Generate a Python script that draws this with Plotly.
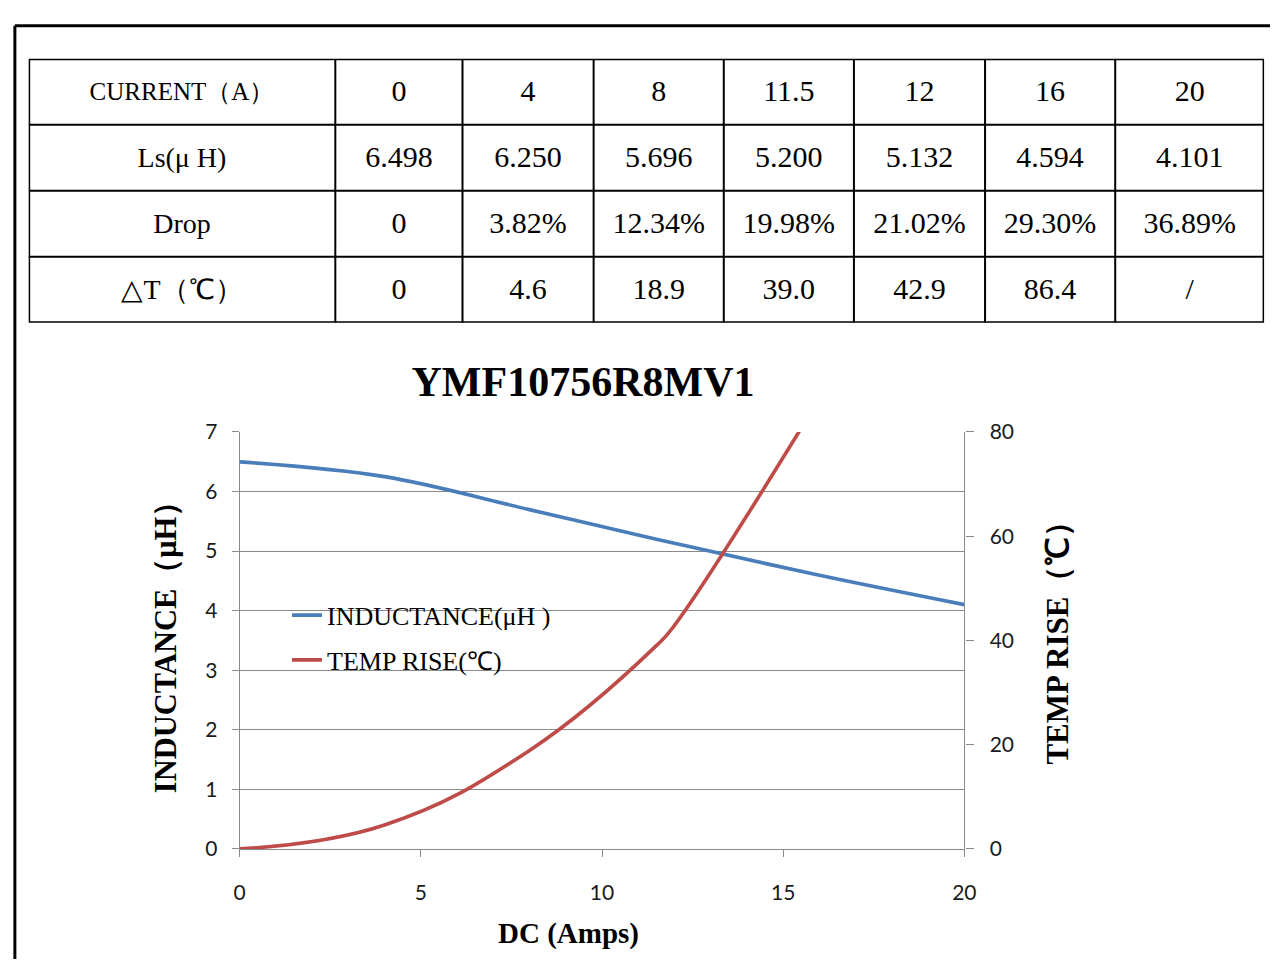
import plotly.graph_objects as go

# ---------------- data ----------------
current = [0, 4, 8, 11.5, 12, 16, 20]
inductance = [6.498, 6.250, 5.696, 5.200, 5.132, 4.594, 4.101]
drop = ["0", "3.82%", "12.34%", "19.98%", "21.02%", "29.30%", "36.89%"]
delta_t = [0, 4.6, 18.9, 39.0, 42.9, 86.4, None]
row_labels = ["CURRENT（A）", "Ls(μ H)", "Drop", "△T（℃）"]

W, H = 1282, 970


def fx(x):
    return x / W


def fy(y):
    return 1 - y / H


def fmt_cur(v):
    return str(int(v)) if float(v).is_integer() else str(v)


def fmt_dt(v):
    if v is None:
        return "/"
    return "0" if v == 0 else f"{v:.1f}"


table_rows = [
    [row_labels[0]] + [fmt_cur(c) for c in current],
    [row_labels[1]] + [f"{v:.3f}" for v in inductance],
    [row_labels[2]] + drop,
    [row_labels[3]] + [fmt_dt(v) for v in delta_t],
]

# table geometry (layout only)
col_widths = [311, 129, 133, 132, 132, 133, 132, 151]
bounds = [0]
for w in col_widths:
    bounds.append(bounds[-1] + w)
centers = [(bounds[i] + bounds[i + 1]) / 2 for i in range(len(col_widths))]
n_rows = len(table_rows)
label_sizes = [25, 28, 28, 28]

cell_x, cell_y, cell_t, cell_size = [], [], [], []
for r, row in enumerate(table_rows):
    for c, txt in enumerate(row):
        cell_x.append(centers[c])
        cell_y.append(r + 0.53)
        cell_t.append(txt)
        cell_size.append(label_sizes[r] if c == 0 else 30)

fig = go.Figure()

fig.add_trace(go.Scatter(
    x=cell_x, y=cell_y, text=cell_t, mode="text", textposition="middle center",
    textfont=dict(family="Liberation Serif", size=cell_size, color="black"),
    xaxis="x3", yaxis="y3", showlegend=False, hoverinfo="skip"))

temp_x = [c for c, t in zip(current, delta_t) if t is not None]
temp_y = [t for t in delta_t if t is not None]

fig.add_trace(go.Scatter(
    x=current, y=inductance, mode="lines", name="INDUCTANCE(μH )",
    line=dict(color="#4A7EBB", width=3.6, shape="spline", smoothing=1.0),
    legendgroup="a", xaxis="x", yaxis="y", hoverinfo="skip"))
fig.add_trace(go.Scatter(
    x=temp_x, y=temp_y, mode="lines", name="TEMP RISE(℃)",
    line=dict(color="#BE4B48", width=3.6, shape="spline", smoothing=1.2),
    legendgroup="b", xaxis="x", yaxis="y2", hoverinfo="skip"))

grid = "#8A8A8A"
tickfont = dict(family="Lato", size=21, color="#1A1A1A")
serif = "Liberation Serif"

shapes = [
    dict(type="line", xref="paper", yref="paper", x0=fx(9), x1=1, y0=fy(12), y1=fy(12),
         line=dict(color="black", width=3)),
    dict(type="line", xref="paper", yref="paper", x0=fx(9), x1=fx(9), y0=0, y1=fy(12),
         line=dict(color="black", width=3)),
]
for b in bounds[1:-1]:
    shapes.append(dict(type="line", xref="x3", yref="y3", x0=b, x1=b, y0=0, y1=n_rows,
                       line=dict(color="black", width=2)))
for r in range(1, n_rows):
    shapes.append(dict(type="line", xref="x3", yref="y3", x0=0, x1=bounds[-1], y0=r, y1=r,
                       line=dict(color="black", width=2)))
shapes.append(dict(type="rect", xref="x3", yref="y3", x0=0, x1=bounds[-1], y0=0, y1=n_rows,
                   line=dict(color="black", width=3), fillcolor="rgba(0,0,0,0)"))

annotations = [
    dict(text="<b>DC (Amps)</b>", xref="paper", yref="paper", x=fx(571), y=fy(944),
         xanchor="center", yanchor="middle", showarrow=False,
         font=dict(family=serif, size=29, color="black")),
    dict(text="<b>INDUCTANCE（μH）</b>", xref="paper", yref="paper", x=fx(163), y=fy(642),
         xanchor="center", yanchor="middle", showarrow=False, textangle=-90,
         font=dict(family=serif, size=30.5, color="black")),
    dict(text="<b>TEMP RISE（℃）</b>", xref="paper", yref="paper", x=fx(1067), y=fy(638),
         xanchor="center", yanchor="middle", showarrow=False, textangle=-90,
         font=dict(family=serif, size=31, color="black")),
]

fig.update_layout(
    width=W, height=H,
    margin=dict(l=0, r=0, t=0, b=0),
    paper_bgcolor="white", plot_bgcolor="white",
    showlegend=True,
    hovermode=False,
    legend=dict(x=fx(285), y=fy(593), xanchor="left", yanchor="top",
                bgcolor="rgba(0,0,0,0)", tracegroupgap=8,
                font=dict(family=serif, size=26, color="black")),
    title=dict(text="<b>YMF10756R8MV1</b>", x=fx(583), y=fy(381),
               xanchor="center", yanchor="middle",
               font=dict(family=serif, size=42, color="black")),
    xaxis=dict(domain=[fx(237), fx(972)], range=[0, 20], dtick=5, anchor="y",
               showgrid=False, showline=True, linecolor=grid, linewidth=1.3,
               ticks="outside", ticklen=7, tickcolor=grid, tickwidth=1.3,
               tickfont=tickfont, ticklabelstandoff=18, zeroline=False),
    yaxis=dict(domain=[fy(857), fy(429)], range=[0, 7], dtick=1, anchor="x",
               showgrid=True, gridcolor=grid, gridwidth=1.3,
               showline=True, linecolor=grid, linewidth=1.3,
               ticks="outside", ticklen=7, tickcolor=grid, tickwidth=1.3,
               tickfont=tickfont, ticklabelstandoff=10, zeroline=False),
    yaxis2=dict(overlaying="y", side="right", anchor="x", range=[0, 80], dtick=20,
                showgrid=False, showline=True, linecolor=grid, linewidth=1.3,
                ticks="outside", ticklen=8, tickcolor=grid, tickwidth=1.3,
                tickfont=tickfont, ticklabelstandoff=12, zeroline=False),
    xaxis3=dict(domain=[fx(23), fx(1276)], range=[0, bounds[-1]], anchor="y3",
                visible=False, fixedrange=True),
    yaxis3=dict(domain=[fy(317), fy(46)], range=[n_rows, 0], anchor="x3",
                visible=False, fixedrange=True),
    shapes=shapes,
    annotations=annotations,
)

post = (
    "document.documentElement.style.margin='0';"
    "document.body.style.margin='0';"
    "document.body.style.overflow='hidden';"
)

fig.write_html("out.html", config={"displayModeBar": False}, post_script=post)
